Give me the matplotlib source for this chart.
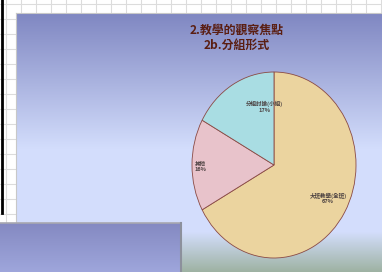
import matplotlib
matplotlib.use("Agg")
import matplotlib.pyplot as plt
import numpy as np

plt.rcParams['font.family'] = ['Noto Sans CJK TC', 'DejaVu Sans']

# data
title_lines = ["2.教學的觀察焦點", "2b.分組形式"]
labels = ["大班教學(全班)", "其他", "分組討論(小組)"]
shares = [67, 16, 17]
colors = ["#ebd49f", "#e8c3cb", "#a9dde3"]
label_pos = [(0.66, -0.36), (-0.9, -0.02), (-0.12, 0.63)]

W, H = 382, 272
fig = plt.figure(figsize=(W / 100, H / 100), dpi=100)

# background (slide screenshot), pixel coordinates
bg = fig.add_axes([0, 0, 1, 1])
bg.set_xlim(0, W)
bg.set_ylim(H, 0)
bg.axis("off")
bg.add_patch(plt.Rectangle((0, 0), W, H, color="white", zorder=0))
for gx in np.arange(6, W, 15):
    bg.axvline(gx, color="#dcdcdc", lw=0.8, zorder=1)
for gy in np.arange(4, H, 15):
    bg.axhline(gy, color="#dcdcdc", lw=0.8, zorder=1)
bg.plot([1.5, 1.5], [0, 213], color="black", lw=2, zorder=2)

# main gradient panel
t = np.linspace(0, 1, 260)
top = np.array([0.50, 0.53, 0.76])
mid = np.array([0.83, 0.87, 0.99])
bot = np.array([0.62, 0.70, 0.64])
grad = []
for v in t:
    y = 13 + v * (H - 13)
    if y < 150:
        f = (y - 13) / 137
        c = top + (mid - top) * f
    elif y < 232:
        c = mid
    else:
        f = (y - 232) / 40
        c = mid + (bot - mid) * f
    grad.append(c)
grad = np.array(grad)[:, None, :]
bg.imshow(grad, extent=(16, W, H, 13), aspect="auto", zorder=3)
bg.plot([16, 16], [13, 222], color="#c8c8c8", lw=0.8, zorder=3)
bg.plot([16, W], [13, 13], color="#c8c8c8", lw=0.8, zorder=3)

# lower-left panel
t2 = np.linspace(0, 1, 50)
c1 = np.array([0.52, 0.54, 0.76])
c2 = np.array([0.62, 0.65, 0.86])
grad2 = np.array([c1 + (c2 - c1) * v for v in t2])[:, None, :]
bg.imshow(grad2, extent=(0, 180, H, 223), aspect="auto", zorder=4)
bg.plot([0, 181], [222.5, 222.5], color="#a8a8b0", lw=1.2, zorder=4)
bg.plot([181, 181], [222.5, H], color="#8c909c", lw=1.5, zorder=4)

# title
fig.text(237 / W, 1 - 30 / H, title_lines[0], ha="center", va="center",
         fontsize=8.6, fontweight="bold", color="#5a1e12")
fig.text(237 / W, 1 - 45 / H, title_lines[1], ha="center", va="center",
         fontsize=8.6, fontweight="bold", color="#5a1e12")

# pie (stretched into an ellipse)
ax = fig.add_axes([192 / W, 1 - 258 / H, 164 / W, 186 / H])
ax.pie(shares, colors=colors, startangle=90, counterclock=False,
       wedgeprops=dict(edgecolor="#8a4a44", linewidth=0.6))
ax.set_aspect("auto")
ax.set_xlim(-1, 1)
ax.set_ylim(-1, 1)
ax.axis("off")
for lab, val, (lx, ly) in zip(labels, shares, label_pos):
    ax.text(lx, ly, f"{lab}\n{val}%", ha="center", va="center",
            fontsize=4, fontweight="bold", color="#4a4040", linespacing=1.2)

fig.savefig("out.png", dpi=100)
